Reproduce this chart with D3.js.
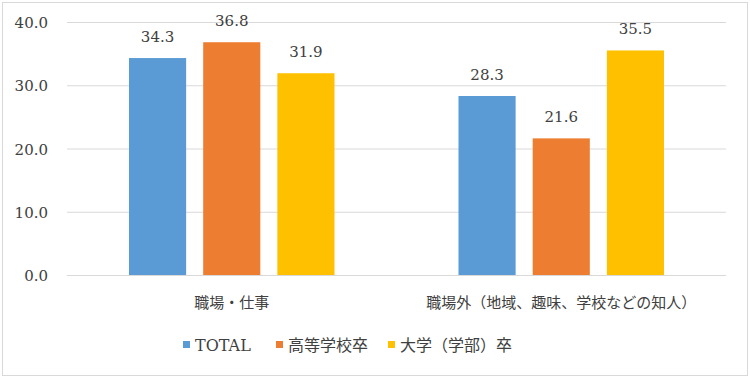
<!DOCTYPE html>
<html>
<head>
<meta charset="utf-8">
<script src="https://cdn.jsdelivr.net/npm/d3@7"></script>
<style>
  body { margin: 0; background: #fff; }
</style>
</head>
<body>
<div id="chart"></div>
<script>
// データ
const categories = ['職場・仕事', '職場外（地域、趣味、学校などの知人）'];
const seriesNames = ['TOTAL', '高等学校卒', '大学（学部）卒'];
const seriesColors = ['#5b9bd5', '#ed7d31', '#ffc000'];
const valuesTotal = [34.3, 28.3];
const valuesHigh = [36.8, 21.6];
const valuesUniv = [31.9, 35.5];
const yTicks = [0, 10, 20, 30, 40];

const series = [valuesTotal, valuesHigh, valuesUniv];

const width = 750, height = 378;
const margin = { top: 22, right: 24, bottom: 103, left: 67 };
const FONT = '"DejaVu Serif", "Noto Sans CJK JP", serif';

const svg = d3.select('#chart').append('svg')
  .attr('width', width)
  .attr('height', height)
  .style('font-family', FONT);

// 外枠
svg.append('rect')
  .attr('x', 2.5).attr('y', 2.5)
  .attr('width', width - 5).attr('height', height - 5)
  .attr('fill', '#fff')
  .attr('stroke', '#d9d9d9');

const x0 = d3.scaleBand()
  .domain(categories)
  .range([margin.left, width - margin.right]);

const x1 = d3.scaleBand()
  .domain(seriesNames)
  .range([62, x0.bandwidth() - 62])
  .paddingInner(0.23);

const y = d3.scaleLinear()
  .domain([0, 40])
  .range([height - margin.bottom, margin.top]);

// グリッド線
svg.append('g')
  .selectAll('line')
  .data(yTicks)
  .join('line')
    .attr('x1', margin.left)
    .attr('x2', width - margin.right)
    .attr('y1', d => y(d) + 0.5)
    .attr('y2', d => y(d) + 0.5)
    .attr('stroke', '#d9d9d9')
    .attr('stroke-width', 1.2);

// Y軸ラベル
svg.append('g')
  .selectAll('text')
  .data(yTicks)
  .join('text')
    .attr('x', 48)
    .attr('y', d => y(d) + 6)
    .attr('text-anchor', 'end')
    .attr('fill', '#404040')
    .style('font-size', '15px')
    .text(d => d.toFixed(1));

// 棒
const groups = svg.append('g')
  .selectAll('g')
  .data(categories)
  .join('g')
    .attr('transform', d => `translate(${x0(d)},0)`);

groups.selectAll('rect')
  .data((c, i) => seriesNames.map((s, j) => ({ s, v: series[j][i], color: seriesColors[j] })))
  .join('rect')
    .attr('x', d => x1(d.s))
    .attr('y', d => y(d.v))
    .attr('width', x1.bandwidth())
    .attr('height', d => y(0) - y(d.v))
    .attr('fill', d => d.color);

groups.selectAll('text.val')
  .data((c, i) => seriesNames.map((s, j) => ({ s, v: series[j][i] })))
  .join('text')
    .attr('class', 'val')
    .attr('x', d => x1(d.s) + x1.bandwidth() / 2)
    .attr('y', d => y(d.v) - 16)
    .attr('text-anchor', 'middle')
    .attr('fill', '#404040')
    .style('font-size', '15px')
    .text(d => d.v.toFixed(1));

// カテゴリラベル
svg.append('g')
  .selectAll('text')
  .data(categories)
  .join('text')
    .attr('x', d => x0(d) + x0.bandwidth() / 2)
    .attr('y', 308)
    .attr('text-anchor', 'middle')
    .attr('fill', '#404040')
    .style('font-size', '15px')
    .text(d => d);

// 凡例
const legendX = [183, 276, 388];
const legend = svg.append('g')
  .selectAll('g')
  .data(seriesNames)
  .join('g')
    .attr('transform', (d, i) => `translate(${legendX[i]},345)`);

legend.append('rect')
  .attr('x', 0).attr('y', -4)
  .attr('width', 7).attr('height', 7)
  .attr('fill', (d, i) => seriesColors[i]);

legend.append('text')
  .attr('x', 12)
  .attr('y', 6)
  .attr('fill', '#404040')
  .style('font-size', '16px')
  .text(d => d);
</script>
</body>
</html>
